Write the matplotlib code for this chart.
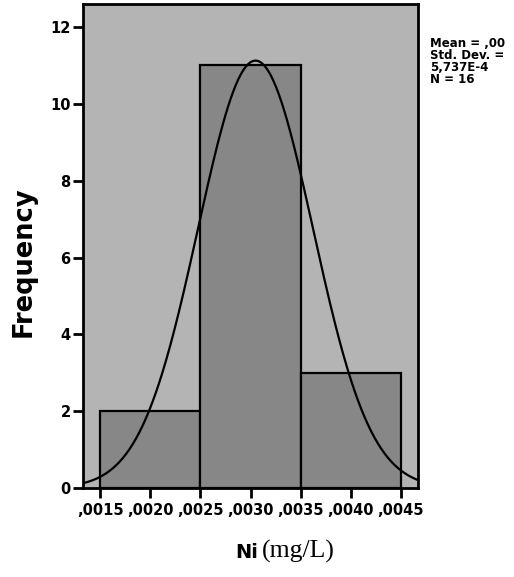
import numpy as np
import matplotlib.pyplot as plt

# histogram of Ni concentration (mg/L), with fitted normal curve
bin_edges = [0.0015, 0.0025, 0.0035, 0.0045]
counts = [2, 11, 3]
mean = 0.00305
std_dev = 5.737e-4
n_obs = 16
x_ticks = [0.0015, 0.0020, 0.0025, 0.0030, 0.0035, 0.0040, 0.0045]
x_tick_labels = [",0015", ",0020", ",0025", ",0030", ",0035", ",0040", ",0045"]
y_ticks = [0, 2, 4, 6, 8, 10, 12]

W, H = 514, 577
fig = plt.figure(figsize=(W / 100, H / 100), dpi=100)
fig.patch.set_facecolor("white")

# axes box in pixel terms
left, right, top, bottom = 83, 418, 4, 488
ax = fig.add_axes([left / W, 1 - bottom / H, (right - left) / W, (bottom - top) / H])
ax.set_facecolor("#b4b4b4")

widths = np.diff(bin_edges)
ax.bar(bin_edges[:-1], counts, width=widths, align="edge",
       color="#878787", edgecolor="black", linewidth=1.6, zorder=2)

xmin, xmax = 0.00133, 0.00467
xs = np.linspace(xmin, xmax, 400)
bw = widths[0]
pdf = np.exp(-0.5 * ((xs - mean) / std_dev) ** 2) / (std_dev * np.sqrt(2 * np.pi))
ax.plot(xs, n_obs * bw * pdf, color="black", linewidth=1.6, zorder=3)

ax.set_xlim(xmin, xmax)
ax.set_ylim(0, 12.6)
ax.set_xticks(x_ticks)
ax.set_xticklabels(x_tick_labels)
ax.set_yticks(y_ticks)

for sp in ax.spines.values():
    sp.set_linewidth(2)
    sp.set_color("black")

ax.tick_params(axis="both", direction="out", length=7, width=2, color="black",
               labelsize=10.5, pad=2)
ax.tick_params(axis="x", pad=4)
for lbl in ax.get_xticklabels() + ax.get_yticklabels():
    lbl.set_fontweight("bold")

fig.text(24 / W, 1 - 262 / H, "Frequency", rotation=90, ha="center", va="center",
         fontsize=18.5, fontweight="bold")

# axis title: element symbol in bold sans, unit in serif
fig.text(258 / W, 1 - 558 / H, "Ni", ha="right", va="baseline",
         fontsize=14, fontweight="bold")
fig.text(262 / W, 1 - 558 / H, "(mg/L)", ha="left", va="baseline",
         fontsize=18.5, family="Liberation Serif")

stats = "Mean = ,00\nStd. Dev. =\n5,737E-4\nN = %d" % n_obs
fig.text(430 / W, 1 - 37 / H, stats, ha="left", va="top", fontsize=8.5,
         fontweight="bold", linespacing=0.9)

fig.savefig("out.png", dpi=100)
